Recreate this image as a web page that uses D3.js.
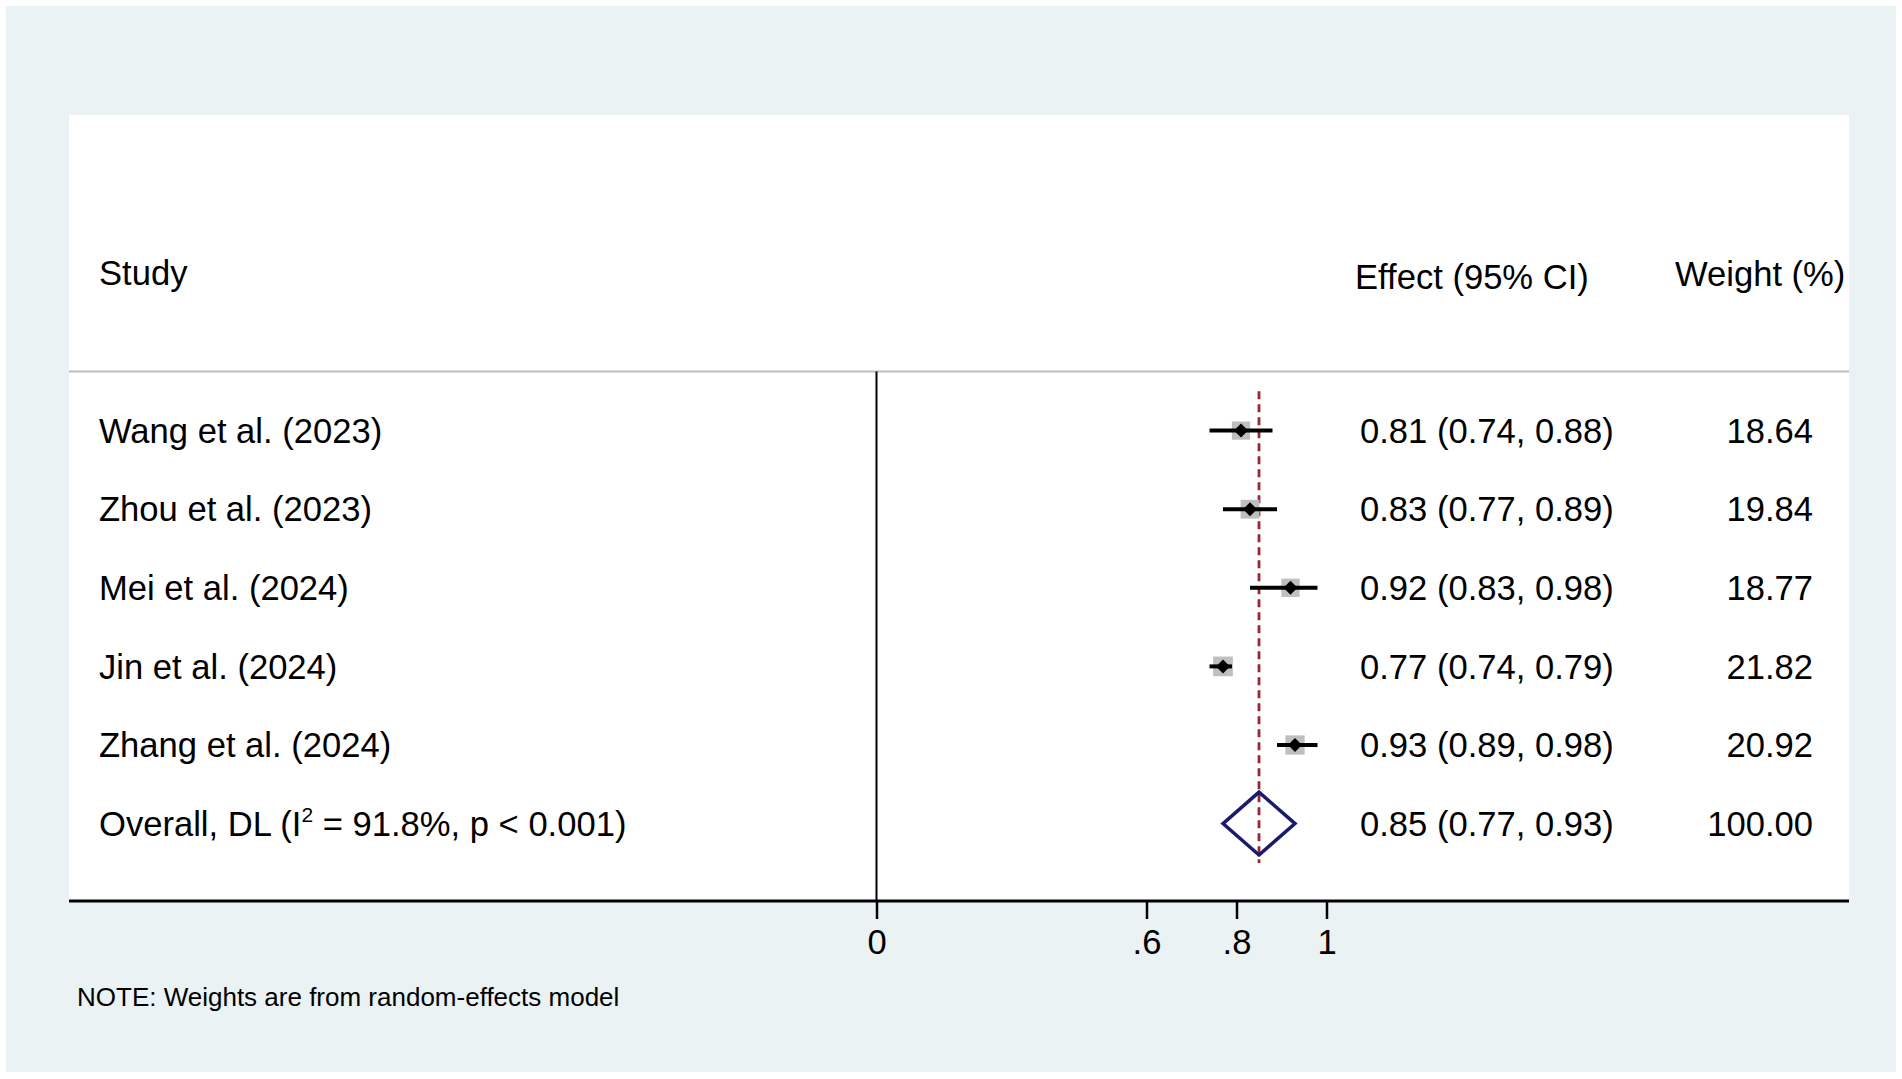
<!DOCTYPE html>
<html>
<head>
<meta charset="utf-8">
<script src="https://cdn.jsdelivr.net/npm/d3@7"></script>
<style>
  html, body { margin: 0; padding: 0; background: #fff; }
  svg { display: block; }
  text { font-family: "Liberation Sans", Arial, sans-serif; fill: #000; }
</style>
</head>
<body>
<svg id="chart" width="1902" height="1079"></svg>
<script>
// study-level data
const studies = ['Wang et al. (2023)', 'Zhou et al. (2023)', 'Mei et al. (2024)', 'Jin et al. (2024)', 'Zhang et al. (2024)'];
const effects = [0.81, 0.83, 0.92, 0.77, 0.93];
const lower = [0.74, 0.77, 0.83, 0.74, 0.89];
const upper = [0.88, 0.89, 0.98, 0.79, 0.98];
const weights = [18.64, 19.84, 18.77, 21.82, 20.92];

// pooled estimate
const overallLabel = 'Overall, DL';
const overall = { es: 0.85, lo: 0.77, hi: 0.93, weight: 100.00, i2: '91.8%', p: 'p < 0.001' };

const tickValues = [0, 0.6, 0.8, 1];
const headers = ['Study', 'Effect (95% CI)', 'Weight (%)'];
const note = 'NOTE: Weights are from random-effects model';

const svg = d3.select('#chart');
const W = 1902, H = 1079;

const panel = { left: 69, right: 1849, top: 115, bottom: 901 };
const headerLine = 371.5;

// outer graph region
svg.append('rect')
  .attr('x', 6).attr('y', 6)
  .attr('width', W - 12).attr('height', H - 13)
  .attr('fill', '#eaf2f3');

// plot region
svg.append('rect')
  .attr('x', panel.left).attr('y', panel.top)
  .attr('width', panel.right - panel.left)
  .attr('height', panel.bottom - panel.top)
  .attr('fill', '#fff');

const rows = studies.concat([overallLabel]);
const y = d3.scalePoint()
  .domain(rows)
  .range([430.6, 823.6]);
const step = y.step();

const x = d3.scaleLinear()
  .domain([0, 1])
  .range([876.5, 1326.5]);

const size = d3.scaleSqrt()
  .domain([0, d3.max(weights)])
  .range([0, 19.7]);

const fs = 34.6;

// header
svg.append('line')
  .attr('x1', panel.left).attr('x2', panel.right)
  .attr('y1', headerLine).attr('y2', headerLine)
  .attr('stroke', '#bdbdbd').attr('stroke-width', 2);

svg.append('text').attr('x', 99).attr('y', 273).attr('dy', '0.35em')
  .attr('font-size', fs).text(headers[0]);
svg.append('text').attr('x', 1355).attr('y', 277).attr('dy', '0.35em')
  .attr('font-size', fs).text(headers[1]);
svg.append('text').attr('x', 1675).attr('y', 274).attr('dy', '0.35em')
  .attr('font-size', fs).text(headers[2]);

// null line at 0
svg.append('line')
  .attr('x1', x(0)).attr('x2', x(0))
  .attr('y1', headerLine).attr('y2', panel.bottom)
  .attr('stroke', '#000').attr('stroke-width', 2);

// overall effect dashed line
svg.append('line')
  .attr('x1', x(overall.es)).attr('x2', x(overall.es))
  .attr('y1', y(studies[0]) - step / 2)
  .attr('y2', y(overallLabel) + step / 2)
  .attr('stroke', '#9c2633').attr('stroke-width', 2.8)
  .attr('stroke-dasharray', '8,5');

const data = studies.map((s, i) => ({
  study: s, es: effects[i], lo: lower[i], hi: upper[i], w: weights[i]
}));

const fmt = d3.format('.2f');

const g = svg.selectAll('.study')
  .data(data)
  .enter()
  .append('g')
  .attr('class', 'study');

g.append('rect')
  .attr('x', d => x(d.es) - size(d.w) / 2)
  .attr('y', d => y(d.study) - size(d.w) / 2)
  .attr('width', d => size(d.w))
  .attr('height', d => size(d.w))
  .attr('fill', '#bfbfbf');

g.append('line')
  .attr('x1', d => x(d.lo)).attr('x2', d => x(d.hi))
  .attr('y1', d => y(d.study)).attr('y2', d => y(d.study))
  .attr('stroke', '#000').attr('stroke-width', 4);

g.append('path')
  .attr('d', d => {
    const cx = x(d.es), cy = y(d.study), r = 7;
    return `M${cx - r},${cy}L${cx},${cy - r}L${cx + r},${cy}L${cx},${cy + r}Z`;
  })
  .attr('fill', '#000');

g.append('text')
  .attr('x', 99).attr('y', d => y(d.study)).attr('dy', '0.35em')
  .attr('font-size', fs)
  .text(d => d.study);

g.append('text')
  .attr('x', 1360).attr('y', d => y(d.study)).attr('dy', '0.35em')
  .attr('font-size', fs)
  .text(d => `${fmt(d.es)} (${fmt(d.lo)}, ${fmt(d.hi)})`);

g.append('text')
  .attr('x', 1813).attr('y', d => y(d.study)).attr('dy', '0.35em')
  .attr('text-anchor', 'end')
  .attr('font-size', fs)
  .text(d => fmt(d.w));

// overall diamond
const oy = y(overallLabel);
const dh = step * 0.4;
svg.append('path')
  .attr('d', `M${x(overall.lo)},${oy}L${x(overall.es)},${oy - dh}L${x(overall.hi)},${oy}L${x(overall.es)},${oy + dh}Z`)
  .attr('fill', 'none')
  .attr('stroke', '#1b1b6e')
  .attr('stroke-width', 3.5);

const ot = svg.append('text')
  .attr('x', 99).attr('y', oy).attr('dy', '0.35em')
  .attr('font-size', fs);
ot.append('tspan').text(`${overallLabel} (I`);
ot.append('tspan').attr('font-size', 21).attr('dy', -14).text('2');
ot.append('tspan').attr('dy', 14)
  .text(` = ${overall.i2}, ${overall.p})`);

svg.append('text')
  .attr('x', 1360).attr('y', oy).attr('dy', '0.35em')
  .attr('font-size', fs)
  .text(`${fmt(overall.es)} (${fmt(overall.lo)}, ${fmt(overall.hi)})`);

svg.append('text')
  .attr('x', 1813).attr('y', oy).attr('dy', '0.35em')
  .attr('text-anchor', 'end')
  .attr('font-size', fs)
  .text(fmt(overall.weight));

// x axis
svg.append('line')
  .attr('x1', panel.left).attr('x2', panel.right)
  .attr('y1', panel.bottom).attr('y2', panel.bottom)
  .attr('stroke', '#000').attr('stroke-width', 3);

const axis = d3.axisBottom(x)
  .tickValues(tickValues)
  .tickSize(18)
  .tickPadding(10)
  .tickFormat(d => d === 0 || d === 1 ? String(d) : d3.format('.1f')(d).replace(/^0/, ''));

const ax = svg.append('g')
  .attr('transform', `translate(0,${panel.bottom})`)
  .call(axis);
ax.select('.domain').remove();
ax.selectAll('.tick line').attr('stroke', '#000').attr('stroke-width', 2.5);
ax.selectAll('.tick text')
  .attr('font-size', fs)
  .attr('font-family', '"Liberation Sans", Arial, sans-serif')
  .attr('fill', '#000');

// note
svg.append('text')
  .attr('x', 77).attr('y', 997).attr('dy', '0.35em')
  .attr('font-size', 26)
  .text(note);
</script>
</body>
</html>
